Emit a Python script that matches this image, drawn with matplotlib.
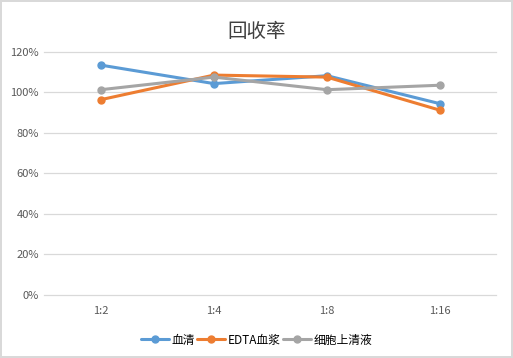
import matplotlib
matplotlib.use("Agg")
import matplotlib.pyplot as plt
from matplotlib.ticker import PercentFormatter

plt.rcParams['font.family'] = ['Noto Sans CJK SC', 'DejaVu Sans']

categories = ['1:2', '1:4', '1:8', '1:16']
serum = [113.3, 104.2, 108.1, 94.3]
edta_plasma = [96.3, 108.4, 107.4, 91.1]
cell_sup = [101.2, 107.4, 101.2, 103.4]

series = [
    ('血清', serum, '#5B9BD5'),
    ('EDTA血浆', edta_plasma, '#ED7D31'),
    ('细胞上清液', cell_sup, '#A5A5A5'),
]

fig = plt.figure(figsize=(5.13, 3.58), dpi=100)
fig.patch.set_edgecolor('#D9D9D9')
fig.patch.set_linewidth(1.5)
ax = fig.add_axes([0.0867, 0.176, 0.881, 0.68])

x = range(len(categories))
for name, vals, col in series:
    ax.plot(x, vals, color=col, lw=2.2, marker='o', ms=5, label=name,
            solid_capstyle='round', clip_on=False)

ax.set_xlim(-0.5, len(categories) - 0.5)
ax.set_ylim(0, 120)
ax.set_yticks(range(0, 121, 20))
ax.yaxis.set_major_formatter(PercentFormatter(decimals=0))
ax.set_xticks(list(x))
ax.set_xticklabels(categories)
ax.grid(axis='y', color='#D9D9D9', lw=0.9, clip_on=False)
for gl in ax.get_ygridlines():
    gl.set_clip_on(False)
ax.set_axisbelow(True)
for s in ax.spines.values():
    s.set_visible(False)
ax.tick_params(length=0, labelsize=8, labelcolor='#595959', pad=8)
ax.tick_params(axis='y', pad=4)

fig.text(0.5, 0.912, '回收率', ha='center', va='center', fontsize=14, color='#404040')

fig.legend(loc='center', bbox_to_anchor=(0.5, 0.05), ncol=3, frameon=False,
           fontsize=8.5, handlelength=2.4, handletextpad=0.2, columnspacing=0.2,
           labelcolor='#000000')

fig.savefig('out.png', dpi=100)
